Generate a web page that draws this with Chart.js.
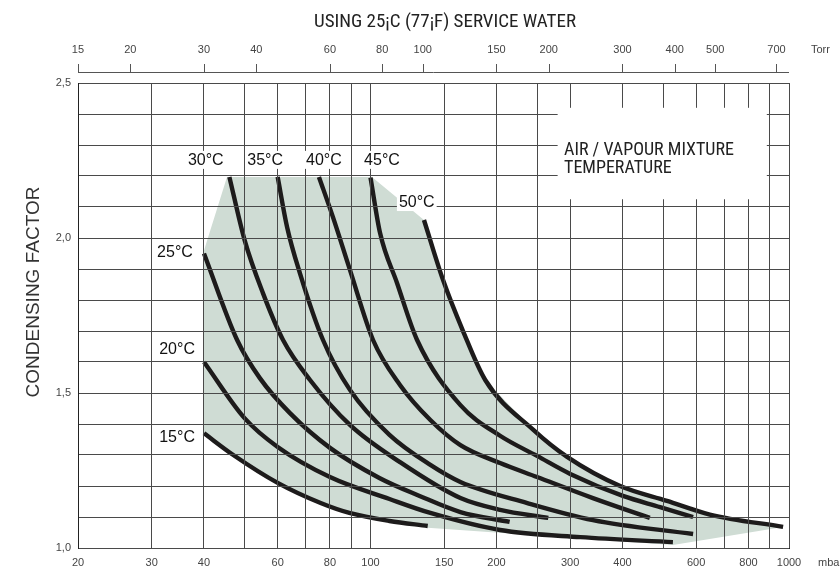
<!DOCTYPE html>
<html><head><meta charset="utf-8">
<script src="https://cdn.jsdelivr.net/npm/chart.js@4/dist/chart.umd.min.js"></script>
<style>html,body{margin:0;padding:0;background:#fff}#wrap{width:840px;height:570px;position:relative}</style>
</head><body><div id="wrap"><canvas id="c" width="840" height="570"></canvas></div>
<script>
// ---- axis data ----
const MBAR_PER_TORR = 1.33322;
const xGridMbar = [20,30,40,50,60,70,80,90,100,150,200,250,300,400,500,600,700,800,900,1000];
const xLabelMbar = [20,30,40,60,80,100,150,200,300,400,600,800,1000];
const torrTicks = [15,20,30,40,60,80,100,150,200,300,400,500,700];
const yGrid = [1.0,1.1,1.2,1.3,1.4,1.5,1.6,1.7,1.8,1.9,2.0,2.1,2.2,2.3,2.4,2.5];
const yLabelValues = [1.0,1.5,2.0,2.5];

// ---- series (pressure mbar, condensing factor) ----
const names = ['15°C','20°C','25°C','30°C','35°C','40°C','45°C','50°C'];
const p15 = [40,47,60,76,89,111,137];
const f15 = [1.37,1.30,1.21,1.145,1.113,1.087,1.071];
const p20 = [40,50,60,80,111,139,204,317,528];
const f20 = [1.60,1.419,1.326,1.229,1.158,1.113,1.058,1.035,1.019];
const p25 = [40,48,54.4,64.2,80,105,131,164,215];
const f25 = [1.95,1.671,1.548,1.435,1.323,1.226,1.168,1.116,1.084];
const p30 = [46,50,55.3,61.8,71.7,89.3,117.6,164,204,266];
const f30 = [2.197,1.994,1.823,1.671,1.542,1.397,1.277,1.161,1.123,1.097];
const p35 = [60,63.2,67.8,77,89.3,111,139,164,237,340,590];
const f35 = [2.197,2.035,1.887,1.671,1.51,1.365,1.268,1.213,1.145,1.09,1.045];
const p40 = [75.3,81.3,89.3,101.4,117.6,139,164,204,250,340,465];
const f40 = [2.197,2.068,1.897,1.671,1.526,1.413,1.332,1.274,1.229,1.161,1.097];
const p45 = [100,105.4,115.7,129.2,164,204,250,300,401,492,590];
const f45 = [2.195,2.016,1.855,1.671,1.461,1.362,1.297,1.239,1.168,1.132,1.100];
const p50 = [134.2,149,166,188,245,295,395,511,647,968];
const f50 = [2.058,1.865,1.703,1.542,1.381,1.294,1.200,1.152,1.108,1.068];

// ---- shaded envelope (closed outline) ----
const shadeP = [40,40,45.4,100.8,134.2,149,166,188,245,295,395,511,647,968,528,137,111,89,76,60,47,40];
const shadeF = [1.37,1.96,2.197,2.197,2.058,1.865,1.703,1.542,1.381,1.294,1.200,1.152,1.108,1.068,1.010,1.065,1.087,1.113,1.145,1.21,1.30,1.37];

const seriesP = [p15,p20,p25,p30,p35,p40,p45,p50];
const seriesF = [f15,f20,f25,f30,f35,f40,f45,f50];

// label anchors (mbar, factor)
const labelAt = [[34.5,1.358],[34.5,1.642],[34.1,1.955],[40.4,2.252],[56,2.252],[77.4,2.252],[106.5,2.252],[129,2.116]];

const SHADE = '#cfdcd4';
const INK = '#1d1b1b';
const GRID = '#4a4a4a';
const SANS = '"Liberation Sans", Arial, sans-serif';
const NARROW = '"Liberation Sans Narrow", "Arial Narrow", "Roboto Condensed", "Liberation Sans", sans-serif';

const toPts = (P,F) => P.map((p,i)=>({x:p,y:F[i]}));

const datasets = [{
  label:'envelope', data: toPts(shadeP, shadeF), showLine:true, fill:'shape',
  backgroundColor: SHADE, borderWidth:0, pointRadius:0, tension:0, order:10
}];
seriesP.forEach((P,i)=>datasets.push({
  label: names[i], data: toPts(P, seriesF[i]), showLine:true, fill:false,
  borderColor: INK, borderWidth:4.4, pointRadius:0, cubicInterpolationMode:'monotone',
  borderCapStyle:'butt', order:1
}));

const annot = {
  id:'annot',
  afterDraw(chart){
    const {ctx, scales:{x, y, x2}, chartArea:ca} = chart;
    ctx.save();
    // top Torr axis line and ticks
    const yl = ca.top - 11;
    ctx.strokeStyle = '#555'; ctx.lineWidth = 1;
    ctx.beginPath(); ctx.moveTo(ca.left, yl+0.5); ctx.lineTo(ca.right, yl+0.5); ctx.stroke();
    torrTicks.forEach(t=>{
      const px = Math.round(x2.getPixelForValue(t))+0.5;
      ctx.beginPath(); ctx.moveTo(px, yl); ctx.lineTo(px, yl-8); ctx.stroke();
    });
    // white box behind legend note
    const bx1 = x.getPixelForValue(280), bx2 = x.getPixelForValue(885);
    const by1 = y.getPixelForValue(2.42), by2 = y.getPixelForValue(2.125);
    ctx.fillStyle = '#fff'; ctx.fillRect(bx1, by1, bx2-bx1, by2-by1);
    // curve labels
    ctx.font = '16px ' + SANS; ctx.textAlign='center'; ctx.textBaseline='middle';
    labelAt.forEach((a,i)=>{
      const px = x.getPixelForValue(a[0]), py = y.getPixelForValue(a[1]);
      const w = ctx.measureText(names[i]).width;
      ctx.fillStyle='#fff'; ctx.fillRect(px-w/2-2, py-9, w+4, 18);
      ctx.fillStyle='#111'; ctx.fillText(names[i], px, py+1);
    });
    // note
    ctx.font = '18px ' + NARROW; ctx.textAlign='left'; ctx.fillStyle='#222';
    const nx = x.getPixelForValue(290);
    ctx.fillText('AIR / VAPOUR MIXTURE', nx, y.getPixelForValue(2.282));
    ctx.fillText('TEMPERATURE', nx, y.getPixelForValue(2.224));
    // title
    ctx.font = '19px ' + NARROW; ctx.textAlign='center'; ctx.fillStyle='#222';
    ctx.fillText('USING 25¡C (77¡F) SERVICE WATER', 445, 22);
    // y title
    ctx.save(); ctx.translate(34, 292); ctx.rotate(-Math.PI/2);
    ctx.font = '19px ' + SANS; ctx.fillStyle='#333'; ctx.textAlign='center';
    ctx.fillText('CONDENSING FACTOR', 0, 0); ctx.restore();
    // unit labels
    ctx.font = '11px ' + SANS; ctx.fillStyle='#444'; ctx.textAlign='left';
    ctx.fillText('Torr', 811, 50);
    ctx.fillText('mbar', 818, 563);
    ctx.restore();
  }
};

new Chart(document.getElementById('c'), {
  type:'scatter',
  data:{datasets},
  options:{
    responsive:false, animation:false, devicePixelRatio:1,
    layout:{padding:{left:0,right:51,top:0,bottom:0}},
    plugins:{legend:{display:false}, tooltip:{enabled:false}, title:{display:false}},
    scales:{
      x:{type:'logarithmic', position:'bottom', min:20, max:1000,
        afterBuildTicks: s => { s.ticks = xGridMbar.map(v=>({value:v})); },
        afterFit: s => { s.height = 22; },
        ticks:{autoSkip:false, maxRotation:0, minRotation:0, padding:8, color:'#444',
          font:{family:SANS, size:11},
          callback: v => xLabelMbar.includes(v) ? String(v) : ''},
        grid:{color:GRID, lineWidth:1, drawTicks:false, z:1},
        border:{display:true, color:'#222', width:1, z:1}
      },
      x2:{type:'logarithmic', position:'top', min:20/MBAR_PER_TORR, max:1000/MBAR_PER_TORR,
        afterBuildTicks: s => { s.ticks = torrTicks.map(v=>({value:v})); },
        afterFit: s => { s.height = 83; },
        ticks:{autoSkip:false, maxRotation:0, minRotation:0, padding:26, color:'#444',
          font:{family:SANS, size:11}, callback: v => String(v)},
        grid:{display:false, drawTicks:false},
        border:{display:false}
      },
      y:{type:'linear', position:'left', min:1, max:2.5,
        afterBuildTicks: s => { s.ticks = yGrid.map(v=>({value:v})); },
        afterFit: s => { s.width = 78; },
        ticks:{padding:7, color:'#444', font:{family:SANS, size:11},
          callback: v => yLabelValues.some(l=>Math.abs(l-v)<1e-6) ? v.toFixed(1).replace('.', ',') : ''},
        grid:{color:GRID, lineWidth:1, drawTicks:false, z:1},
        border:{display:true, color:'#222', width:1, z:1}
      }
    }
  },
  plugins:[annot]
});
</script></body></html>
